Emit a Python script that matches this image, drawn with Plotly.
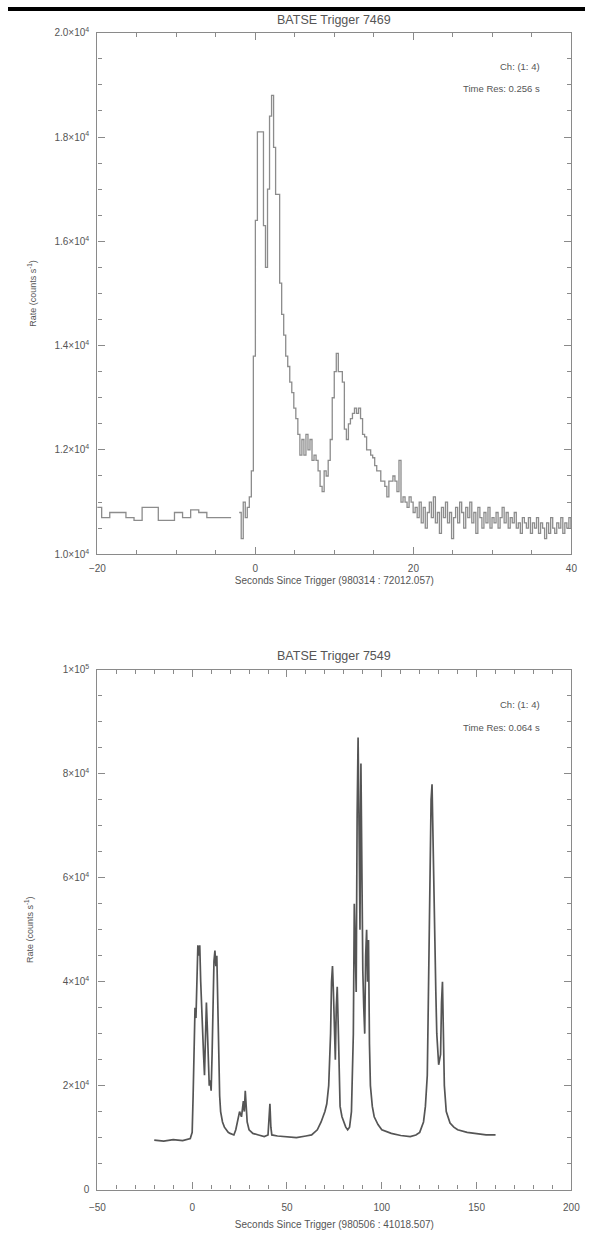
import plotly.graph_objects as go

W, H = 594, 1243

# ---------------- Panel 1 data: BATSE trigger 7469 ----------------
# pre-trigger: 1.024 s bins, start -20.48
pre_start, pre_step = -20.48, 1.024
rate1_pre = [1.09, 1.07, 1.08, 1.08, 1.07, 1.065, 1.09, 1.09, 1.065, 1.065,
             1.08, 1.07, 1.085, 1.08, 1.07, 1.07, 1.07, 1.07]
# post: 0.256 s bins, start -2.048
post_start, post_step = -2.048, 0.256
rate1_post = [
    1.08, 1.03, 1.10, 1.07, 1.09, 1.11, 1.16, 1.38,
    1.64, 1.81, 1.81, 1.81, 1.63, 1.55, 1.70, 1.84,
    1.88, 1.78, 1.69, 1.69, 1.52, 1.46, 1.42, 1.38,
    1.36, 1.33, 1.31, 1.28, 1.26, 1.23, 1.19, 1.22,
    1.19, 1.23, 1.20, 1.22, 1.18, 1.19, 1.18, 1.16,
    1.13, 1.12, 1.16, 1.15, 1.18, 1.22, 1.30, 1.35,
    1.385, 1.35, 1.35, 1.33, 1.24, 1.22, 1.25, 1.26,
    1.27, 1.28, 1.27, 1.28, 1.26, 1.23, 1.225, 1.20,
    1.20, 1.19, 1.185, 1.17, 1.16, 1.16, 1.14, 1.14,
    1.13, 1.11, 1.14, 1.14, 1.15, 1.14, 1.12, 1.18,
    1.10, 1.11, 1.10, 1.09, 1.11, 1.10, 1.08, 1.09,
    1.07, 1.10, 1.06, 1.09, 1.05, 1.08, 1.10, 1.07,
    1.11, 1.06, 1.08, 1.04, 1.09, 1.07, 1.10, 1.06,
    1.08, 1.03, 1.07, 1.09, 1.06, 1.10, 1.08, 1.05,
    1.09, 1.07, 1.10, 1.06, 1.08, 1.04, 1.09, 1.07,
    1.05, 1.08, 1.06, 1.09, 1.05, 1.07, 1.06, 1.08,
    1.05, 1.07, 1.09, 1.06, 1.08, 1.05, 1.07, 1.06,
    1.08, 1.05, 1.06, 1.04, 1.07, 1.06, 1.05, 1.07,
    1.04, 1.06, 1.05, 1.07, 1.04, 1.06, 1.05, 1.03,
    1.06, 1.04, 1.07, 1.05, 1.04, 1.06, 1.05, 1.07,
    1.04, 1.06, 1.05, 1.07, 1.05, 1.06, 1.04, 1.06,
]
t1_pre = [pre_start + pre_step * i for i in range(len(rate1_pre))]
t1_post = [post_start + post_step * i for i in range(len(rate1_post))]

# ---------------- Panel 2 data: BATSE trigger 7549 ----------------
# (time [s], rate [10^3 counts/s]) pairs
t2_a = [-20, -15, -10, -5, -1, 0, 0.5, 1, 1.5, 2, 2.5, 3, 3.5, 4, 4.5, 5, 5.5, 6, 6.5, 7]
r2_a = [9.5, 9.3, 9.6, 9.4, 9.8, 11, 18, 28, 35, 33, 42, 47, 45, 47, 40, 34, 30, 26, 22, 28]
t2_b = [7.5, 8, 8.5, 9, 9.5, 10, 10.5, 11, 11.5, 12, 12.5, 13, 13.5, 14, 14.5, 15, 16, 17]
r2_b = [36, 31, 23, 20, 21, 19, 26, 38, 44, 46, 43, 45, 36, 25, 18, 15, 13, 12]
t2_c = [18, 19, 20, 22, 23, 24, 25, 26, 27, 27.5, 28, 28.5, 29, 30, 32, 35, 38, 40, 40.5]
r2_c = [11.5, 11, 10.8, 10.5, 11.5, 13, 15, 14, 17, 15, 19, 16, 13, 11.5, 10.8, 10.5, 10.2, 10.5, 13]
t2_d = [41, 41.5, 42, 45, 50, 55, 60, 63, 66, 68, 70, 71, 72, 73, 73.5, 74, 74.5, 75, 75.5]
r2_d = [16.5, 12, 10.5, 10.3, 10.2, 10.0, 10.3, 10.5, 11.5, 13, 15, 16.5, 20, 30, 40, 43, 38, 30, 25]
t2_e = [76, 76.5, 77, 77.5, 78, 79, 80, 81, 82, 83, 84, 84.5, 85, 85.5, 86, 86.5, 87, 87.5]
r2_e = [35, 39, 32, 22, 16, 14, 13, 12, 11.5, 12, 15, 22, 30, 55, 45, 38, 72, 87]
t2_f = [88, 88.5, 89, 89.5, 90, 90.5, 91, 91.5, 92, 92.5, 93, 93.5, 94, 95, 96, 98, 100]
r2_f = [70, 50, 82, 60, 42, 35, 30, 45, 50, 40, 48, 28, 20, 16, 14, 12.5, 11.5]
t2_g = [105, 110, 115, 118, 120, 122, 123, 124, 124.5, 125, 125.5, 126, 126.5, 127, 127.5]
r2_g = [10.8, 10.4, 10.2, 10.5, 11, 13, 16, 22, 35, 50, 65, 75, 78, 70, 60]
t2_h = [128, 128.5, 129, 130, 131, 131.5, 132, 132.5, 133, 134, 136, 138, 140, 145, 150, 155, 160]
r2_h = [48, 38, 30, 24, 26, 36, 40, 30, 20, 15, 12.8, 12, 11.5, 11, 10.8, 10.5, 10.5]
t2 = t2_a + t2_b + t2_c + t2_d + t2_e + t2_f + t2_g + t2_h
r2 = r2_a + r2_b + r2_c + r2_d + r2_e + r2_f + r2_g + r2_h

# tick labels
y1_vals = [1.0e4, 1.2e4, 1.4e4, 1.6e4, 1.8e4, 2.0e4]
y1_text = ["1.0×10<sup>4</sup>", "1.2×10<sup>4</sup>", "1.4×10<sup>4</sup>",
           "1.6×10<sup>4</sup>", "1.8×10<sup>4</sup>", "2.0×10<sup>4</sup>"]
y2_vals = [0, 2e4, 4e4, 6e4, 8e4, 1e5]
y2_text = ["0", "2×10<sup>4</sup>", "4×10<sup>4</sup>", "6×10<sup>4</sup>",
           "8×10<sup>4</sup>", "1×10<sup>5</sup>"]

AX = "#8a8a8a"
TXT = "#555555"
FONT = "Liberation Sans, Arial, sans-serif"

fig = go.Figure()
fig.add_trace(go.Scatter(x=t1_pre, y=[v * 1e4 for v in rate1_pre], mode="lines",
                         line=dict(shape="hv", color="#8c8c8c", width=1.3),
                         xaxis="x", yaxis="y", showlegend=False))
fig.add_trace(go.Scatter(x=t1_post, y=[v * 1e4 for v in rate1_post], mode="lines",
                         line=dict(shape="hv", color="#8c8c8c", width=1.3),
                         xaxis="x", yaxis="y", showlegend=False))
fig.add_trace(go.Scatter(x=t2, y=[v * 1e3 for v in r2], mode="lines",
                         line=dict(color="#555555", width=1.7),
                         xaxis="x2", yaxis="y2", showlegend=False))

xd = [92 / W, 580 / W]
y1d = [1 - 553 / H, 1 - 26 / H]
y2d = [1 - 1195 / H, 1 - 670 / H]

common = dict(showline=True, linecolor=AX, linewidth=1.3, mirror="ticks",
              ticks="inside", ticklen=7, tickwidth=1, tickcolor=AX,
              showgrid=False, zeroline=False,
              tickfont=dict(family=FONT, size=10, color=TXT))

xt_font = dict(family=FONT, size=10, color=TXT)
yt_font = dict(family=FONT, size=9, color=TXT)

fig.update_layout(
    width=W, height=H, margin=dict(l=0, r=0, t=0, b=0),
    paper_bgcolor="white", plot_bgcolor="white",
    xaxis=dict(domain=xd, anchor="y", range=[-20, 40], tickvals=[-20, 0, 20, 40],
               ticklabelstandoff=5,
               minor=dict(dtick=5, ticks="inside", ticklen=4, tickcolor=AX),
               title=dict(text="Seconds Since Trigger (980314 : 72012.057)",
                          font=xt_font, standoff=3),
               **common),
    yaxis=dict(domain=y1d, anchor="x", range=[1.0e4, 2.0e4], tickvals=y1_vals,
               ticktext=y1_text, ticklabelstandoff=5,
               minor=dict(dtick=500, ticks="inside", ticklen=4, tickcolor=AX),
               title=dict(text="Rate (counts s<sup>-1</sup>)", font=yt_font, standoff=16),
               **common),
    xaxis2=dict(domain=xd, anchor="y2", range=[-50, 200],
                tickvals=[-50, 0, 50, 100, 150, 200], ticklabelstandoff=8,
                minor=dict(dtick=10, ticks="inside", ticklen=4, tickcolor=AX),
                title=dict(text="Seconds Since Trigger (980506 : 41018.507)",
                           font=xt_font, standoff=9),
                **common),
    yaxis2=dict(domain=y2d, anchor="x2", range=[0, 1e5], tickvals=y2_vals,
                ticktext=y2_text, ticklabelstandoff=5,
                minor=dict(dtick=5000, ticks="inside", ticklen=4, tickcolor=AX),
                title=dict(text="Rate (counts s<sup>-1</sup>)", font=yt_font, standoff=27),
                **common),
)

ann_font = dict(family=FONT, size=9.5, color=TXT)
title_font = dict(family=FONT, size=12.5, color=TXT)
cx = (xd[0] + xd[1]) / 2
fig.add_annotation(text="BATSE Trigger 7469", x=cx, y=1 - 13 / H, xref="paper", yref="paper",
                   showarrow=False, font=title_font, xanchor="center", yanchor="middle")
fig.add_annotation(text="BATSE Trigger 7549", x=cx, y=1 - 656 / H, xref="paper", yref="paper",
                   showarrow=False, font=title_font, xanchor="center", yanchor="middle")
for txt, yy in [("Ch: (1: 4)", 60), ("Time Res: 0.256 s", 82),
                ("Ch: (1: 4)", 705), ("Time Res: 0.064 s", 728)]:
    fig.add_annotation(text=txt, x=550 / W, y=1 - yy / H, xref="paper", yref="paper",
                       showarrow=False, font=ann_font, xanchor="right", yanchor="middle")

# black strip at the very top of the page
fig.add_shape(type="rect", xref="paper", yref="paper", x0=0, x1=1, y0=1 - 4 / H, y1=1,
              fillcolor="black", line=dict(width=0))

fig.write_html("out.html")
